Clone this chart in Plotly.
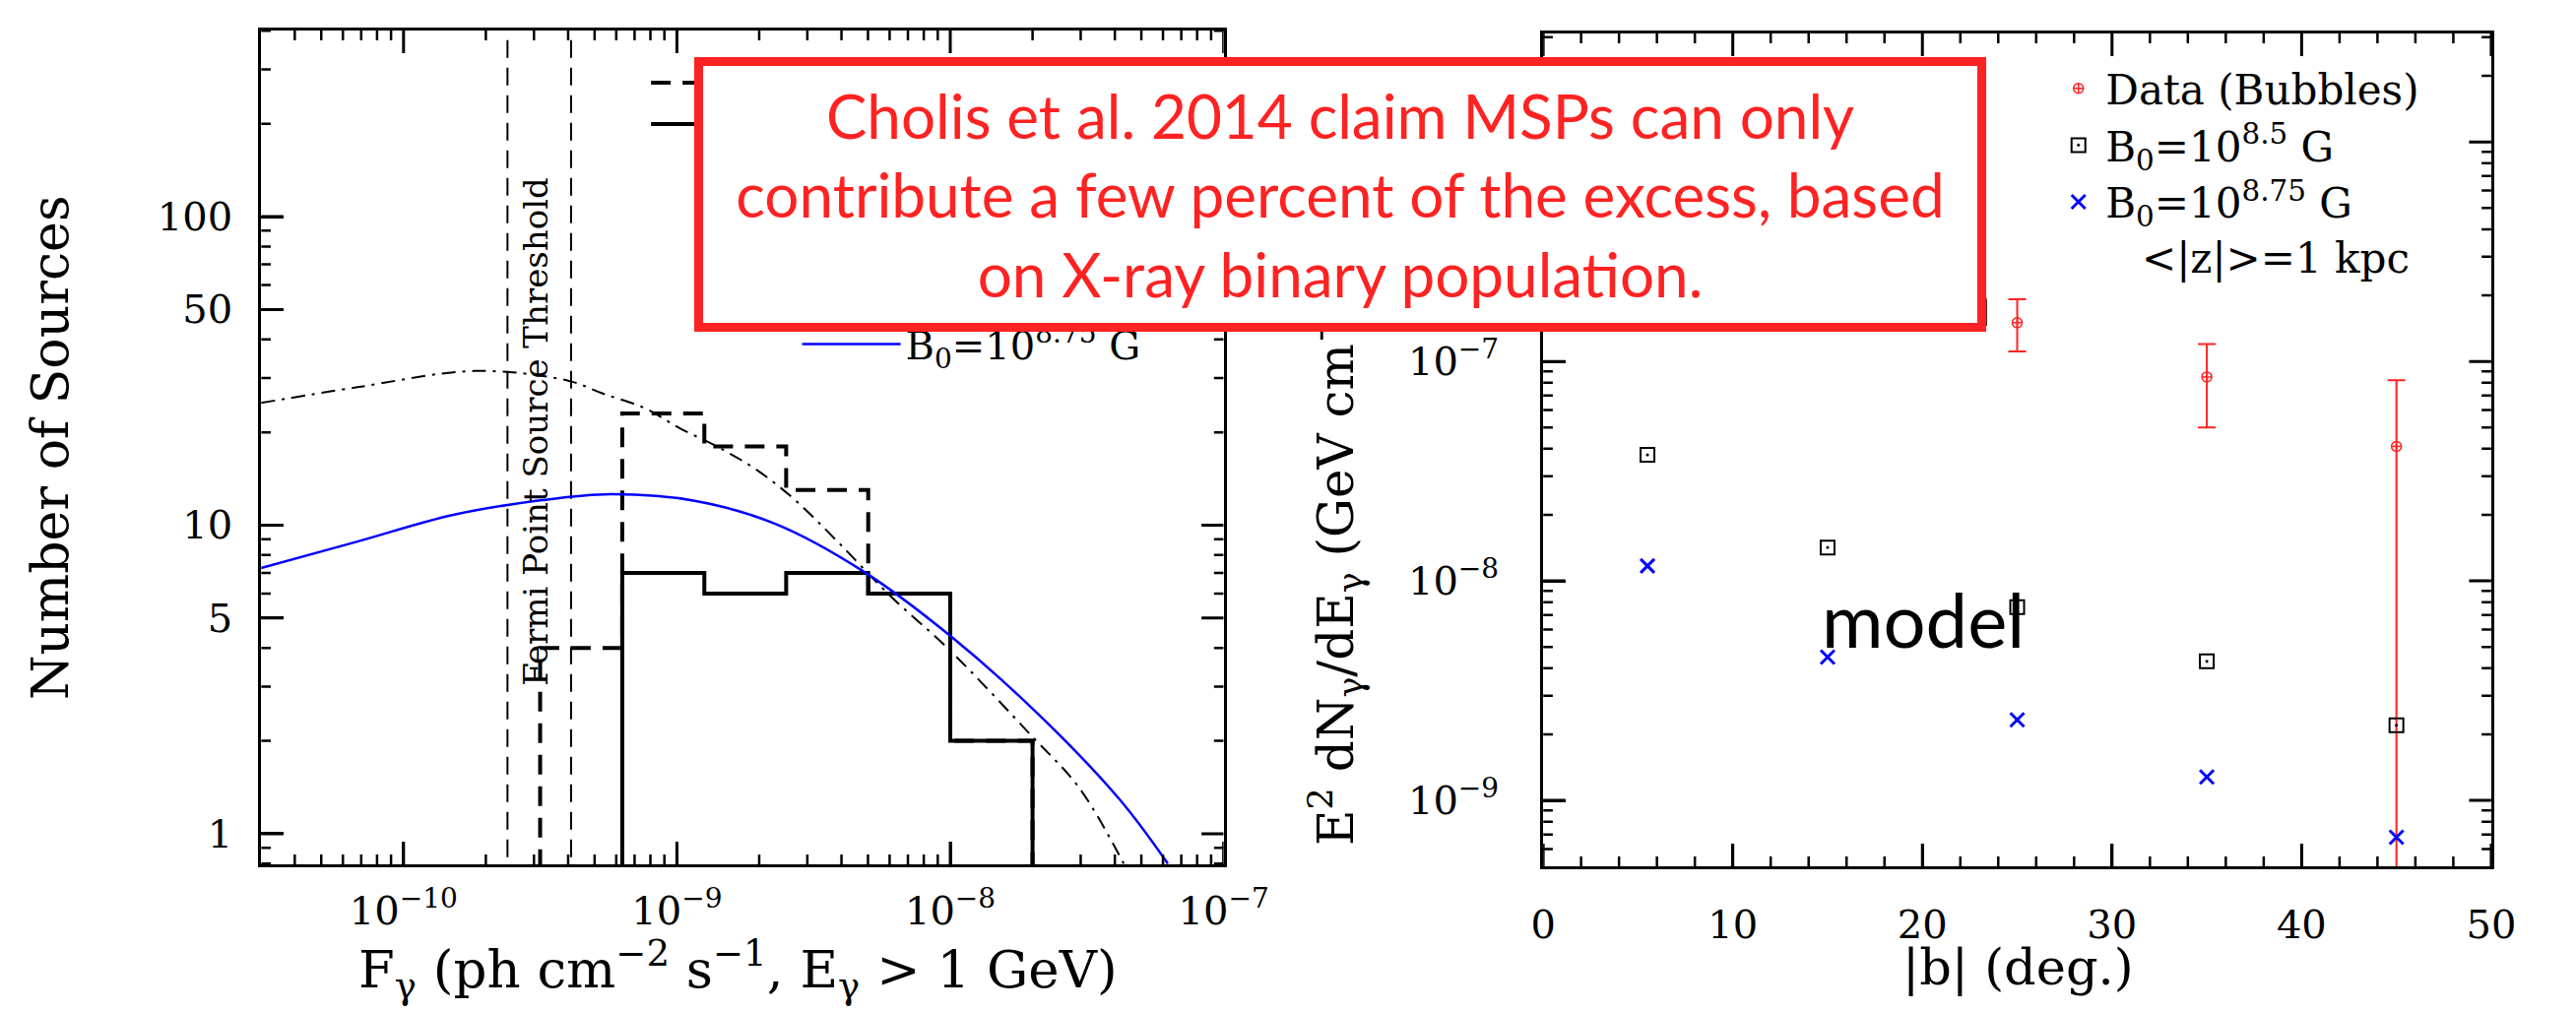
import math
import plotly.graph_objects as go

W, H = 2616, 1027

# ---------------- Left panel data ----------------
flux_bin_edges = [3.16e-10, 6.31e-10, 1.26e-9, 2.51e-9, 5.01e-9, 1.0e-8, 2.0e-8]
counts_dashed = [4, 23, 18, 13, 6, 2]
solid_bin_edges = [6.31e-10, 1.26e-9, 2.51e-9, 5.01e-9, 1.0e-8, 2.0e-8]
counts_solid = [7, 6, 7, 6, 2]
threshold_flux = [2.4e-10, 4.1e-10]

dashdot_flux = [3.01e-11, 6.78e-11, 1.82e-10, 4.00e-10, 5.36e-10, 7.66e-10, 1.026e-9,
                1.416e-9, 1.96e-9, 2.71e-9, 3.87e-9, 5.96e-9, 9.91e-9, 1.98e-8,
                2.96e-8, 4.31e-8]
dashdot_counts = [24.9, 28.0, 31.6, 29.4, 26.7, 23.9, 20.6, 17.9, 15.1, 12.05, 8.85,
                  5.96, 3.95, 2.08, 1.41, 0.80]

blue_flux = [3.01e-11, 6.78e-11, 1.52e-10, 3.21e-10, 5.71e-10, 1.16e-9, 2.29e-9,
             4.79e-9, 1.009e-8, 2.12e-8, 4.17e-8, 6.25e-8]
blue_counts = [7.26, 8.85, 10.8, 12.05, 12.6, 12.0, 10.1, 7.1, 4.35, 2.42, 1.29, 0.80]

left_xtick_vals = [1e-10, 1e-9, 1e-8, 1e-7]
left_xtick_text = ["10<sup>−10</sup>", "10<sup>−9</sup>", "10<sup>−8</sup>", "10<sup>−7</sup>"]
left_ytick_vals = [1, 5, 10, 50, 100]
left_ytick_text = ["1", "5", "10", "50", "100"]

# ---------------- Right panel data ----------------
lat_data = [25, 35, 45]
data_flux = [1.5e-7, 8.5e-8, 4.1e-8]
data_err_up = [4.2e-8, 3.5e-8, 4.1e-8]
data_err_down = [3.9e-8, 3.5e-8, 4.09e-8]
lat_model = [5.5, 15, 25, 35, 45]
model_b85 = [3.75e-8, 1.42e-8, 7.6e-9, 4.3e-9, 2.2e-9]
model_b875 = [1.17e-8, 4.5e-9, 2.33e-9, 1.28e-9, 6.8e-10]

right_xtick_vals = [0, 10, 20, 30, 40, 50]
right_ytick_vals = [1e-9, 1e-8, 1e-7, 1e-6]
right_ytick_text = ["10<sup>−9</sup>", "10<sup>−8</sup>", "10<sup>−7</sup>", "10<sup>−6</sup>"]

FONT = "DejaVu Serif"
RED = "#FF2222"
FLOOR = 0.3

LX_RANGE = [-10.521, -7.0]
LY_RANGE = [-0.099, 2.603]
RX_RANGE = [0, 50]
RY_RANGE = [-9.30, -5.506]


def px_x(p):
    return p / W


def px_y(p):
    return 1 - p / H


L_XDOM = [px_x(258), px_x(1258)]
L_YDOM = [px_y(878), px_y(31)]
R_XDOM = [px_x(1590), px_x(2575)]
R_YDOM = [px_y(880), px_y(34)]


def step_xy(edges, counts, floor):
    xs = [edges[0]] + edges[:-1] + [edges[-1], edges[-1]]
    ys = [floor] + counts + [counts[-1], floor]
    return xs, ys


fig = go.Figure()

for t in threshold_flux:
    fig.add_trace(go.Scatter(x=[t, t], y=[FLOOR, 1000], mode="lines",
                             line=dict(color="black", width=2, dash="18px,10px"),
                             showlegend=False, xaxis="x", yaxis="y"))

xd, yd = step_xy(flux_bin_edges, counts_dashed, FLOOR)
fig.add_trace(go.Scatter(x=xd, y=yd, mode="lines", line_shape="hv",
                         line=dict(color="black", width=4, dash="20px,12px"),
                         name=" ", legend="legend2", xaxis="x", yaxis="y"))
xs_, ys_ = step_xy(solid_bin_edges, counts_solid, FLOOR)
fig.add_trace(go.Scatter(x=xs_, y=ys_, mode="lines", line_shape="hv",
                         line=dict(color="black", width=4),
                         name=" ", legend="legend2", xaxis="x", yaxis="y"))

fig.add_trace(go.Scatter(x=dashdot_flux, y=dashdot_counts, mode="lines", line_shape="spline",
                         line=dict(color="black", width=2, dash="14px,7px,3px,7px"),
                         name="B<sub>0</sub>=10<sup>8.5</sup> G", legend="legend3",
                         xaxis="x", yaxis="y"))
fig.add_trace(go.Scatter(x=blue_flux, y=blue_counts, mode="lines", line_shape="spline",
                         line=dict(color="#0000FF", width=2.5),
                         name="B<sub>0</sub>=10<sup>8.75</sup> G", legend="legend3",
                         xaxis="x", yaxis="y"))

fig.add_trace(go.Scatter(x=lat_data, y=data_flux, mode="markers",
                         marker=dict(symbol="circle-cross-open", size=10, color=RED,
                                     line=dict(width=1.5, color=RED)),
                         error_y=dict(type="data", array=data_err_up, arrayminus=data_err_down,
                                      color=RED, thickness=2, width=9),
                         name="Data (Bubbles)", legend="legend", xaxis="x2", yaxis="y2"))
fig.add_trace(go.Scatter(x=lat_model, y=model_b85, mode="markers",
                         marker=dict(symbol="square-open-dot", size=14, color="black",
                                     line=dict(width=2, color="black")),
                         name="B<sub>0</sub>=10<sup>8.5</sup> G", legend="legend",
                         xaxis="x2", yaxis="y2"))
fig.add_trace(go.Scatter(x=lat_model, y=model_b875, mode="markers",
                         marker=dict(symbol="x-thin", size=14, color="#0000FF",
                                     line=dict(width=3, color="#0000FF")),
                         name="B<sub>0</sub>=10<sup>8.75</sup> G", legend="legend",
                         xaxis="x2", yaxis="y2"))


# ---------- inward tick marks on all four frame sides ----------
def log_minor(rng, majors):
    out = []
    for e in range(math.floor(rng[0]) - 1, math.ceil(rng[1]) + 1):
        for k in range(1, 10):
            v = k * 10.0 ** e
            lv = math.log10(v)
            if rng[0] < lv < rng[1] and all(abs(lv - math.log10(m)) > 1e-6 for m in majors):
                out.append(v)
    return out


def lin_minor(rng, step, majors):
    out = []
    v = rng[0]
    while v <= rng[1]:
        if v not in majors:
            out.append(v)
        v += step
    return out


def frame_ticks(xvals, yvals, xr, yr, xlog, ylog, fx, fy):
    tx = (lambda u: 10 ** u) if xlog else (lambda u: u)
    ty = (lambda u: 10 ** u) if ylog else (lambda u: u)
    X, Y = [], []
    for v in xvals:
        for a, b in ((yr[0], yr[0] + fy * (yr[1] - yr[0])), (yr[1], yr[1] - fy * (yr[1] - yr[0]))):
            X += [v, v, None]
            Y += [ty(a), ty(b), None]
    for v in yvals:
        for a, b in ((xr[0], xr[0] + fx * (xr[1] - xr[0])), (xr[1], xr[1] - fx * (xr[1] - xr[0]))):
            X += [tx(a), tx(b), None]
            Y += [v, v, None]
    return X, Y


MAJ_LEN, MIN_LEN = 23, 10
panels = [
    ("x", "y", left_xtick_vals, log_minor(LX_RANGE, left_xtick_vals),
     left_ytick_vals, log_minor(LY_RANGE, left_ytick_vals), LX_RANGE, LY_RANGE, True, True, 1000, 847),
    ("x2", "y2", right_xtick_vals, lin_minor(RX_RANGE, 2, right_xtick_vals),
     right_ytick_vals, log_minor(RY_RANGE, right_ytick_vals), RX_RANGE, RY_RANGE, False, True, 985, 846),
]
for xa, ya, xmaj, xmin, ymaj, ymin, xr, yr, xlog, ylog, wpx, hpx in panels:
    for xv, yv, ln, lw in ((xmaj, ymaj, MAJ_LEN, 3), (xmin, ymin, MIN_LEN, 2.5)):
        X, Y = frame_ticks(xv, yv, xr, yr, xlog, ylog, ln / wpx, ln / hpx)
        fig.add_trace(go.Scatter(x=X, y=Y, mode="lines", connectgaps=False,
                                 line=dict(color="black", width=lw),
                                 showlegend=False, hoverinfo="skip", xaxis=xa, yaxis=ya))

tickfont = dict(family=FONT, size=40, color="black")
FRAME = dict(showline=True, linecolor="black", linewidth=3, mirror=True,
             ticks="inside", ticklen=MAJ_LEN, tickwidth=3, tickcolor="black",
             showgrid=False, zeroline=False, tickfont=tickfont)

fig.update_layout(
    width=W, height=H, margin=dict(l=0, r=0, t=0, b=0),
    paper_bgcolor="white", plot_bgcolor="white",
    font=dict(family=FONT, color="black"),
    xaxis=dict(type="log", range=LX_RANGE, domain=L_XDOM, anchor="y",
               tickmode="array", tickvals=left_xtick_vals, ticktext=left_xtick_text,
               ticklabelstandoff=10, **FRAME),
    yaxis=dict(type="log", range=LY_RANGE, domain=L_YDOM, anchor="x",
               tickmode="array", tickvals=left_ytick_vals, ticktext=left_ytick_text,
               ticklabelstandoff=18, **FRAME),
    xaxis2=dict(range=RX_RANGE, domain=R_XDOM, anchor="y2",
                tickmode="array", tickvals=right_xtick_vals, ticklabelstandoff=22, **FRAME),
    yaxis2=dict(type="log", range=RY_RANGE, domain=R_YDOM, anchor="x2",
                tickmode="array", tickvals=right_ytick_vals, ticktext=right_ytick_text,
                ticklabelstandoff=34, **FRAME),
    legend=dict(x=px_x(2118), y=px_y(56), xanchor="left", yanchor="top",
                font=dict(family=FONT, size=42, color="black"), bgcolor="rgba(0,0,0,0)",
                itemwidth=45, tracegroupgap=0),
    legend2=dict(x=px_x(658), y=px_y(58), xanchor="left", yanchor="top",
                 font=dict(family=FONT, size=30, color="black"), bgcolor="rgba(0,0,0,0)",
                 itemwidth=70),
    legend3=dict(x=px_x(815), y=px_y(262), xanchor="left", yanchor="top",
                 font=dict(family=FONT, size=40, color="black"), bgcolor="rgba(0,0,0,0)",
                 itemwidth=100),
)


def note(text, x, y, size, family=FONT, color="black", angle=0, xa="center", ya="middle"):
    return dict(text=text, x=px_x(x), y=px_y(y), xref="paper", yref="paper",
                xanchor=xa, yanchor=ya, textangle=angle, showarrow=False,
                font=dict(family=family, size=size, color=color))


ann = [
    note("Number of Sources", 39, 455, 52, angle=-90),
    note("F<sub>γ</sub> (ph cm<sup>−2</sup> s<sup>−1</sup>, E<sub>γ</sub> > 1 GeV)", 754, 985, 53),
    note("|b| (deg.)", 2083, 982, 51),
    note("Fermi Point Source Threshold", 543, 438, 34, angle=-90),
    note("&lt;|z|&gt;=1 kpc", 2351, 262, 42),
    note("E<sup>2</sup> dN<sub>γ</sub>/dE<sub>γ</sub> (GeV cm<sup>−2</sup> s<sup>−1</sup> sr<sup>−1</sup>)",
         1375, 463, 50, angle=-90),
    note("model", 1985, 628, 76, family="Lato"),
    note("data", 2058, 302, 76, family="Lato", xa="right"),
]
ann.append(dict(text="Cholis et al. 2014 claim MSPs can only<br>contribute a few percent of the excess, based<br>on X-ray binary population.",
                x=px_x(1379), y=px_y(197.5), xref="paper", yref="paper", showarrow=False,
                xanchor="center", yanchor="middle", align="center",
                width=1294, height=261, bgcolor="white", bordercolor=RED, borderwidth=9,
                borderpad=0, font=dict(family="Lato", size=62, color=RED)))
fig.update_layout(annotations=ann)

fig.write_html("out.html")
